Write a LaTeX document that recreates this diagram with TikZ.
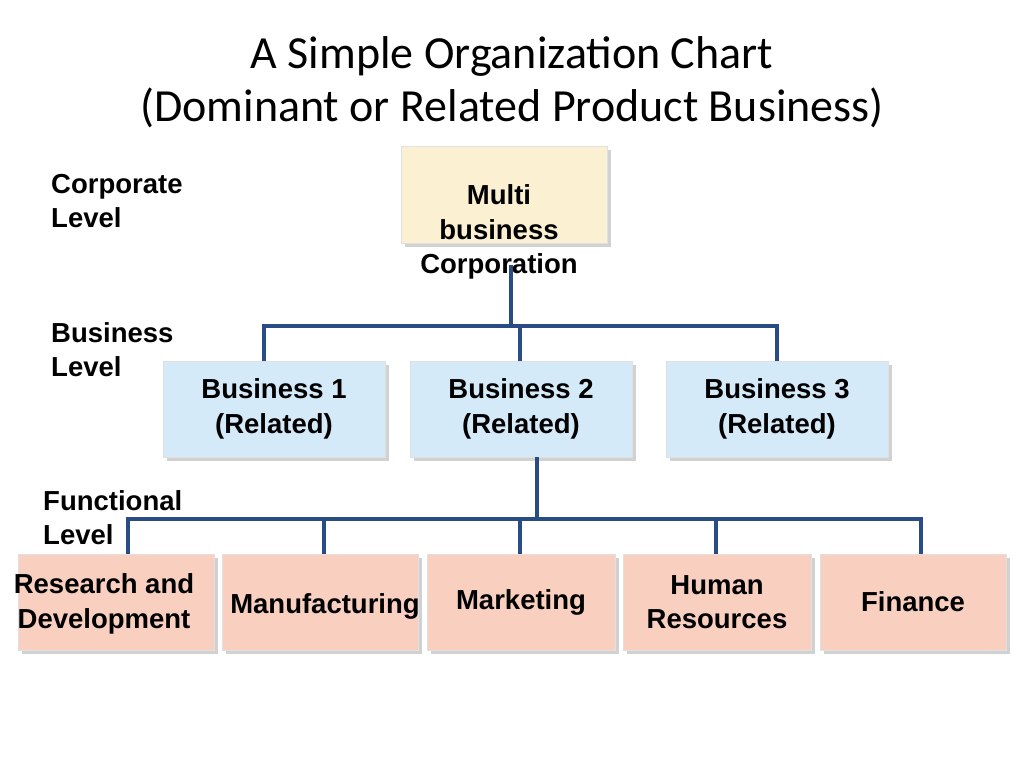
\documentclass[tikz,border=0pt]{standalone}
\usepackage{fontspec}
\setmainfont{Liberation Sans}
\newfontfamily\titlefont{Carlito}
\definecolor{yel}{HTML}{FCF0D2}
\definecolor{blu}{HTML}{D5EAF9}
\definecolor{fun}{HTML}{F9D0C0}
\definecolor{lnc}{HTML}{2A4C84}
\begin{document}
\begin{tikzpicture}[x=1pt,y=-1pt,
  box/.style={draw=black!12,line width=1pt,inner sep=0pt,align=center,font=\bfseries\fontsize{27.5}{34.5}\selectfont},
  yel/.style={box,fill=yel},
  blu/.style={box,fill=blu},
  fun/.style={box,fill=fun},
  shad/.style={fill=black!18},
  ln/.style={draw=lnc,line width=4pt},
  lab/.style={anchor=north west,align=left,inner sep=0pt,font=\bfseries\fontsize{27.5}{34.5}\selectfont}]
\useasboundingbox (0,0) rectangle (1024,768);
\node[font=\titlefont\fontsize{46}{53}\selectfont,align=center] (title) at (512,82) {A Simple Organization Chart\\(Dominant or Related Product Business)};
\foreach \a/\b/\c/\d in {401/146/607/243,163/361/385/457,410/361/632/457,666/361/888/457,18/554/214/650,222/554/418/650,427/554/615/650,623/554/811/650,820/554/1006/650}
  \fill[shad] (\a+4,\b+4) rectangle (\c+4,\d+4);
\node[yel,minimum width=206,minimum height=97] (corp) at (504,194.5) {};
\node[font=\bfseries\fontsize{27.5}{34.5}\selectfont,align=center] (corpt) at (499,232) {Multi\\business\\Corporation};
\node[blu,minimum width=222,minimum height=96] (b1) at (274,409) {Business 1\\(Related)};
\node[blu,minimum width=222,minimum height=96] (b2) at (521,409) {Business 2\\(Related)};
\node[blu,minimum width=222,minimum height=96] (b3) at (777,409) {Business 3\\(Related)};
\node[fun,minimum width=196,minimum height=96] (f1) at (116,602) {};
\node[font=\bfseries\fontsize{27.5}{34.5}\selectfont,align=center] (f1t) at (104,604) {Research and\\Development};
\node[fun,minimum width=196,minimum height=96] (f2) at (320,602) {};
\node[font=\bfseries\fontsize{27.5}{34.5}\selectfont] (f2t) at (325,606) {Manufacturing};
\node[fun,minimum width=188,minimum height=96] (f3) at (521,602) {Marketing};
\node[fun,minimum width=188,minimum height=96] (f4) at (717,602) {Human\\Resources};
\node[fun,minimum width=186,minimum height=96] (f5) at (913,602) {Finance};
\node[lab] (l1) at (51,174) {Corporate\\Level};
\node[lab] (l2) at (51,322) {Business\\Level};
\node[lab] (l3) at (43,490) {Functional\\Level};
\coordinate (s1) at (511,265);
\coordinate (s2) at (537,457);
\draw[ln] (s1) -- (511,326);
\draw[ln,line cap=rect] (264,326) -- (777,326);
\draw[ln] (264,326) -- (264,361) (520,326) -- (520,361) (777,326) -- (777,361);
\draw[ln] (s2) -- (537,519);
\draw[ln,line cap=rect] (128,519) -- (921,519);
\foreach \x in {128,324,520,716,921} \draw[ln] (\x,519) -- (\x,554);
\end{tikzpicture}
\end{document}
